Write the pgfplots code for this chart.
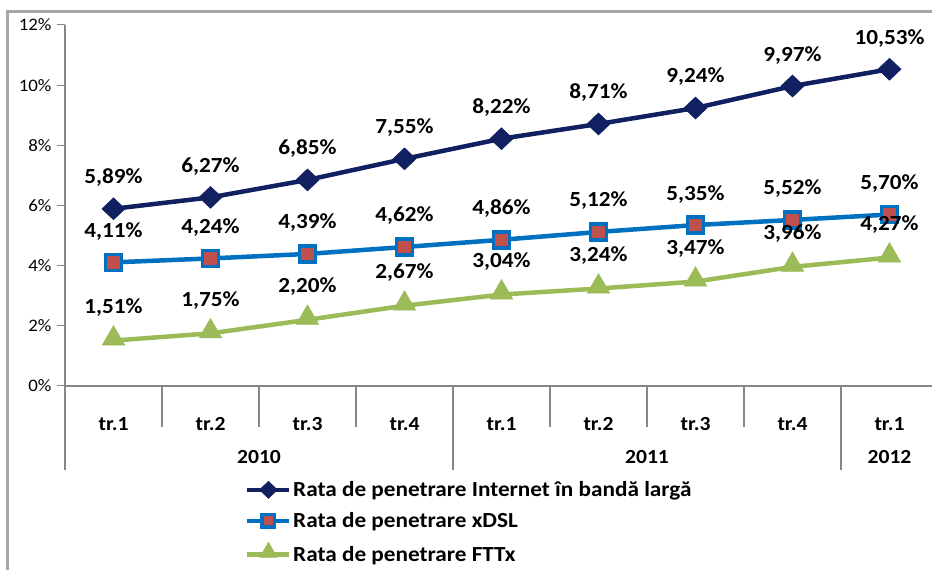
\documentclass[border=0pt]{standalone}
\usepackage{pgfplots}
\pgfplotsset{compat=1.18}
\usepackage{fontspec}
\setmainfont{Carlito}[FakeStretch=1.08]
\definecolor{cNavy}{RGB}{16,32,96}
\definecolor{cBlue}{RGB}{0,112,192}
\definecolor{cRed}{RGB}{192,80,77}
\definecolor{cGreen}{RGB}{155,187,89}
\definecolor{cAxis}{RGB}{134,134,134}
\definecolor{cFrame}{RGB}{166,166,166}
\begin{document}
\begin{tikzpicture}
\path[use as bounding box] (0pt,0pt) rectangle (932pt,570pt);
\draw[color=cFrame, line width=3pt] (7pt,-5pt) -- (7pt,558pt) -- (945pt,558pt);
\begin{axis}[
  at={(65pt,184pt)}, anchor=south west,
  scale only axis, width=873pt, height=361pt,
  xmin=-0.5, xmax=8.5, ymin=0, ymax=12,
  axis lines*=left,
  axis line style={draw=cAxis, line width=1.2pt},
  clip=false,
  /pgf/number format/assume math mode=true,
  xtick={0,...,8},
  xticklabels={tr.1,tr.2,tr.3,tr.4,tr.1,tr.2,tr.3,tr.4,tr.1},
  x tick style={draw=none},
  xticklabel style={anchor=center, yshift=-30pt, font=\bfseries\fontsize{20}{22}\selectfont},
  ytick={0,2,...,12},
  yticklabel={\pgfmathprintnumber{\tick}\%},
  y tick style={draw=cAxis, line width=1pt},
  tick align=outside, major tick length=8pt,
  yticklabel style={font=\fontsize{17.5}{19}\selectfont, anchor=east, xshift=-2pt},
  nodes near coords={\pgfmathprintnumber[fixed,fixed zerofill,precision=2,use comma]{\pgfplotspointmeta}\%},
  every node near coord/.append style={anchor=center, yshift=31pt, font=\bfseries\fontsize{21.5}{23}\selectfont, text=black},
  legend style={at={(0.2062,-0.26)}, anchor=north west, draw=none, fill=none,
    font=\bfseries\fontsize{21.5}{23}\selectfont, row sep=11.5pt, inner sep=0pt,
    nodes={inner sep=1.5pt}},
  legend cell align=left,
  legend image code/.code={\draw[mark repeat=2, mark phase=2, #1, every mark/.append style={scale=0.78}] plot coordinates {(0pt,0pt) (21pt,0pt) (42pt,0pt)};},
]
\addplot[color=cNavy, line width=4.5pt, mark=diamond*, mark size=11pt, mark options={xscale=1.4, line width=0.5pt, fill=cNavy}]
 coordinates {(0,5.89) (1,6.27) (2,6.85) (3,7.55) (4,8.22) (5,8.71) (6,9.24) (7,9.97) (8,10.53)};
\addlegendentry{Rata de penetrare Internet în bandă largă}
\addplot[color=cBlue, line width=4.5pt, mark=square*, mark size=8pt, mark options={draw=cBlue, fill=cRed, line width=3.5pt, rounded corners=1.5pt}]
 coordinates {(0,4.11) (1,4.24) (2,4.39) (3,4.62) (4,4.86) (5,5.12) (6,5.35) (7,5.52) (8,5.70)};
\addlegendentry{Rata de penetrare xDSL}
\addplot[color=cGreen, line width=4.5pt, mark=triangle*, mark size=13pt, mark options={line width=0.5pt, fill=cGreen, yshift=2pt}]
 coordinates {(0,1.51) (1,1.75) (2,2.20) (3,2.67) (4,3.04) (5,3.24) (6,3.47) (7,3.96) (8,4.27)};
\addlegendentry{Rata de penetrare FTTx}
\pgfplotsinvokeforeach{0.5,1.5,2.5,4.5,5.5,6.5}{
  \draw[cAxis, line width=1.2pt] (axis cs:#1,0) -- ++(0pt,-41pt);
}
\pgfplotsinvokeforeach{-0.5,3.5,7.5,8.5}{
  \draw[cAxis, line width=1.2pt] (axis cs:#1,0) -- ++(0pt,-84pt);
}
\node[font=\bfseries\fontsize{20}{22}\selectfont, anchor=center] at ([yshift=-71pt]axis cs:1.5,0) {2010};
\node[font=\bfseries\fontsize{20}{22}\selectfont, anchor=center] at ([yshift=-71pt]axis cs:5.5,0) {2011};
\node[font=\bfseries\fontsize{20}{22}\selectfont, anchor=center] at ([yshift=-71pt]axis cs:8,0) {2012};
\end{axis}
\end{tikzpicture}
\end{document}
